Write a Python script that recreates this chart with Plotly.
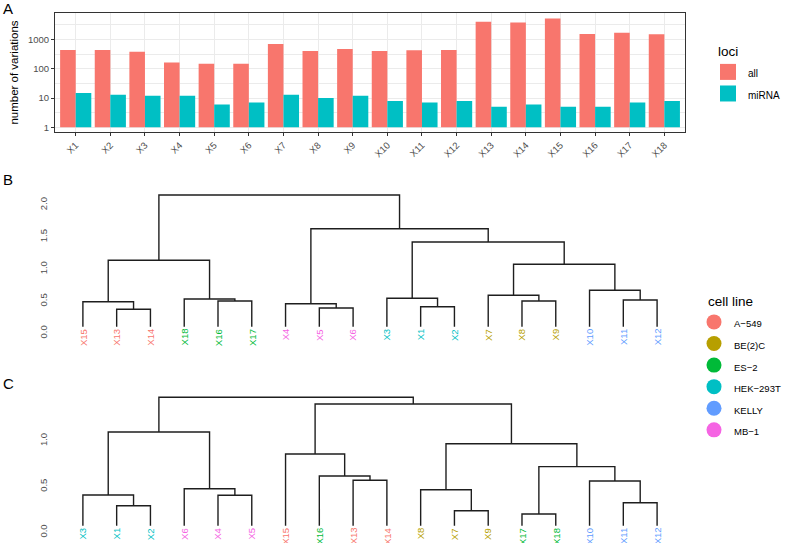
import plotly.graph_objects as go

W, H = 786, 543

# ---------------- data ----------------
samples = ["X1", "X2", "X3", "X4", "X5", "X6", "X7", "X8", "X9",
           "X10", "X11", "X12", "X13", "X14", "X15", "X16", "X17", "X18"]
all_counts = [440, 440, 380, 165, 150, 150, 710, 410, 480,
              410, 430, 440, 4100, 3800, 5200, 1550, 1700, 1520]
mirna_counts = [15, 13, 12, 12, 6, 7, 13, 10, 12,
                8, 7, 8, 5, 6, 5, 5, 7, 8]
y_tick_vals = [1, 10, 100, 1000]
y_tick_text = ["1", "10", "100", "1000"]

loci_names = ["all", "miRNA"]
loci_colors = ["#F8766D", "#00BFC4"]

cell_lines = ["A\u2212549", "BE(2)C", "ES\u22122", "HEK\u2212293T", "KELLY", "MB\u22121"]
cell_colors = ["#F8766D", "#B79F00", "#00BA38", "#00BFC4", "#619CFF", "#F564E3"]
sample_cell = ["HEK\u2212293T", "HEK\u2212293T", "HEK\u2212293T",
               "MB\u22121", "MB\u22121", "MB\u22121",
               "BE(2)C", "BE(2)C", "BE(2)C",
               "KELLY", "KELLY", "KELLY",
               "A\u2212549", "A\u2212549", "A\u2212549",
               "ES\u22122", "ES\u22122", "ES\u22122"]

# dendrogram B: leaf order + merges (a, b, height); ints refer to earlier merges
leaf_order_b = ["X15", "X13", "X14", "X18", "X16", "X17", "X4", "X5", "X6",
                "X3", "X1", "X2", "X7", "X8", "X9", "X10", "X11", "X12"]
merges_b = [("X13", "X14", 0.271), ("X15", 0, 0.389), ("X16", "X17", 0.400),
            ("X18", 2, 0.431), (1, 3, 1.034), ("X5", "X6", 0.291),
            ("X4", 5, 0.358), ("X1", "X2", 0.311), ("X3", 7, 0.442),
            ("X8", "X9", 0.400), ("X7", 9, 0.489), ("X11", "X12", 0.416),
            ("X10", 11, 0.567), (10, 12, 0.972), (8, 13, 1.319),
            (6, 14, 1.526), (4, 15, 2.051)]
ticks_b = [0, 0.5, 1.0, 1.5, 2.0]

# dendrogram C
leaf_order_c = ["X3", "X1", "X2", "X6", "X4", "X5", "X15", "X16", "X13",
                "X14", "X8", "X7", "X9", "X17", "X18", "X10", "X11", "X12"]
merges_c = [("X1", "X2", 0.219), ("X3", 0, 0.336), ("X4", "X5", 0.333),
            ("X6", 2, 0.405), (1, 3, 1.025), ("X13", "X14", 0.497),
            ("X16", 5, 0.544), ("X15", 6, 0.784), ("X7", "X9", 0.164),
            ("X8", 8, 0.394), ("X17", "X18", 0.128), ("X11", "X12", 0.252),
            ("X10", 11, 0.489), (10, 12, 0.646), (9, 13, 0.897),
            (7, 14, 1.332), (4, 15, 1.405)]
ticks_c = [0, 0.5, 1.0]

FONT = "Liberation Sans, Arial, Helvetica, sans-serif"
TICKC = "#4D4D4D"
color_of = dict(zip(cell_lines, cell_colors))


def dendro_segments(order, merges):
    pos = {name: (i + 1, 0.0) for i, name in enumerate(order)}
    nodes = []
    xs, ys = [], []

    def get(k):
        return nodes[k] if isinstance(k, int) else pos[k]

    for a, b, h in merges:
        xa, ha = get(a)
        xb, hb = get(b)
        xs += [xa, xa, xb, xb, None]
        ys += [ha, h, h, hb, None]
        nodes.append(((xa + xb) / 2, h))
    return xs, ys


def px_x(p):
    return p / W


def px_y(p):
    return 1 - p / H


def sized(t, s):
    return '<span style="font-size:%spx">%s</span>' % (s, t)


fig = go.Figure()

# ---------------- panel A ----------------
for name, vals, col in zip(loci_names, [all_counts, mirna_counts], loci_colors):
    fig.add_trace(go.Bar(
        x=samples, y=[v - 1 for v in vals], base=1, name=name,
        marker=dict(color=col, line=dict(width=0)),
        showlegend=False, legendgroup=name,
        customdata=vals, hovertemplate="%{x}: %{customdata}<extra>" + name + "</extra>",
        xaxis="x", yaxis="y"))
for name, col in zip(loci_names, loci_colors):
    fig.add_trace(go.Scatter(
        x=[None], y=[None], mode="markers", name=sized(name, 10), legendgroup=name,
        marker=dict(symbol="square", size=16, color=col),
        legend="legend", xaxis="x", yaxis="y"))

# ---------------- panel B / C ----------------
for order, merges, xa, ya in [(leaf_order_b, merges_b, "x2", "y2"),
                              (leaf_order_c, merges_c, "x3", "y3")]:
    xs, ys = dendro_segments(order, merges)
    fig.add_trace(go.Scatter(x=xs, y=ys, mode="lines",
                             line=dict(color="#1E1E1E", width=1.4),
                             hoverinfo="skip", showlegend=False,
                             xaxis=xa, yaxis=ya))

annotations = []
for order, xa, ya in [(leaf_order_b, "x2", "y2"), (leaf_order_c, "x3", "y3")]:
    for i, name in enumerate(order):
        cl = sample_cell[samples.index(name)]
        annotations.append(dict(
            x=i + 1, y=0, xref=xa, yref=ya, text=name, showarrow=False,
            textangle=-90, xanchor="center", yanchor="top",
            font=dict(size=9.5, color=color_of[cl], family=FONT)))

for cl, col in zip(cell_lines, cell_colors):
    fig.add_trace(go.Scatter(
        x=[None], y=[None], mode="markers", name=sized(cl, 9.5),
        marker=dict(symbol="circle", size=15, color=col),
        legend="legend2", xaxis="x2", yaxis="y2"))

for letter, y in [("A", 8.5), ("B", 179.5), ("C", 383)]:
    annotations.append(dict(x=px_x(1), y=px_y(y), xref="paper", yref="paper",
                            text=letter, showarrow=False, xanchor="left",
                            yanchor="middle",
                            font=dict(size=15, color="black", family=FONT)))

axis_common = dict(showline=True, mirror=True, linecolor="#333333", linewidth=1,
                   ticks="outside", ticklen=3, tickcolor="#333333",
                   gridcolor="#EBEBEB", gridwidth=1, zeroline=False,
                   tickfont=dict(size=9.5, color=TICKC, family=FONT))

dendro_y = dict(showline=False, showgrid=False, zeroline=False, ticks="",
                tickangle=-90, ticklabelposition="outside bottom",
                ticklabelstandoff=10,
                tickfont=dict(size=9.5, color=TICKC, family=FONT))

fig.update_layout(
    width=W, height=H,
    margin=dict(l=0, r=0, t=0, b=0),
    paper_bgcolor="white", plot_bgcolor="white",
    font=dict(family=FONT, color="black"),
    barmode="group", bargap=0.1, bargroupgap=0,
    xaxis=dict(domain=[px_x(55), px_x(686)], anchor="y", type="category",
               range=[-0.6, 17.6], tickangle=-45, showgrid=True, **axis_common),
    yaxis=dict(domain=[px_y(132), px_y(13)], anchor="x", type="log",
               range=[-0.161, 3.908], tickmode="array",
               tickvals=y_tick_vals, ticktext=y_tick_text, showgrid=True,
               minor=dict(tickvals=[10 ** 0.5, 10 ** 1.5, 10 ** 2.5, 10 ** 3.5],
                          showgrid=True, gridcolor="#EBEBEB", gridwidth=0.6,
                          ticks=""),
               title=dict(text="number of variations", standoff=6,
                          font=dict(size=11.5, color="black", family=FONT)),
               **axis_common),
    xaxis2=dict(domain=[px_x(60), px_x(686)], anchor="y2", range=[0.32, 18.83],
                visible=False),
    yaxis2=dict(domain=[px_y(350), px_y(185)], anchor="x2", range=[-0.363, 2.207],
                tickmode="array", tickvals=ticks_b,
                ticktext=[f"{t:.1f}" for t in ticks_b], **dendro_y),
    xaxis3=dict(domain=[px_x(60), px_x(686)], anchor="y3", range=[0.32, 18.83],
                visible=False),
    yaxis3=dict(domain=[0, px_y(385)], anchor="x3", range=[-0.189, 1.539],
                tickmode="array", tickvals=ticks_c,
                ticktext=[f"{t:.1f}" for t in ticks_c], **dendro_y),
    legend=dict(x=px_x(716), y=px_y(34), xanchor="left", yanchor="top",
                title=dict(text=sized("loci", 13.5), font=dict(size=17, family=FONT)),
                font=dict(size=14.3, family=FONT), bgcolor="rgba(0,0,0,0)",
                itemsizing="trace", tracegroupgap=0, indentation=-8),
    legend2=dict(x=px_x(707), y=px_y(284), xanchor="left", yanchor="top",
                 title=dict(text=sized("cell line", 13.5), font=dict(size=17, family=FONT)),
                 font=dict(size=14.3, family=FONT), bgcolor="rgba(0,0,0,0)",
                 itemsizing="trace", tracegroupgap=0, indentation=-12),
    annotations=annotations,
)

fig.write_html("out.html")
